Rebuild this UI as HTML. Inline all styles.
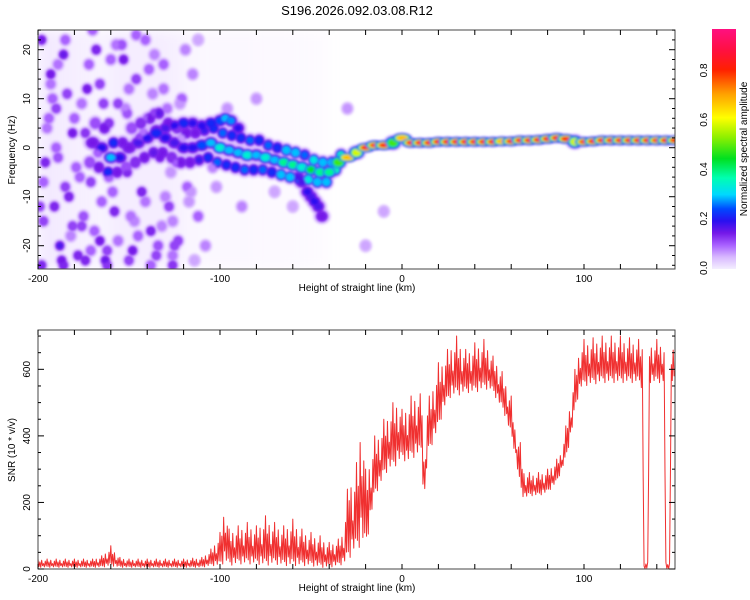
<!DOCTYPE html>
<html><head><meta charset="utf-8"><style>
html,body{margin:0;padding:0;background:#fff;}
svg{display:block;font-family:"Liberation Sans",sans-serif;}
</style></head><body>
<svg id="chart" width="750" height="600" viewBox="0 0 750 600">
<defs>
<filter id="soft" x="-50%" y="-50%" width="200%" height="200%"><feGaussianBlur stdDeviation="1.3"/></filter>
<filter id="haze" x="-50%" y="-50%" width="200%" height="200%"><feGaussianBlur stdDeviation="6"/></filter>
<linearGradient id="cbar" x1="0" y1="1" x2="0" y2="0">
<stop offset="0" stop-color="#f4eeff"/><stop offset="0.05" stop-color="#d8b8ff"/><stop offset="0.1" stop-color="#a860ff"/><stop offset="0.15" stop-color="#7418e8"/><stop offset="0.2" stop-color="#2a10f0"/><stop offset="0.25" stop-color="#0048ff"/><stop offset="0.31" stop-color="#00d8ff"/><stop offset="0.38" stop-color="#00ffb0"/><stop offset="0.46" stop-color="#00e020"/><stop offset="0.55" stop-color="#90f000"/><stop offset="0.63" stop-color="#ffff00"/><stop offset="0.73" stop-color="#ffa000"/><stop offset="0.83" stop-color="#ff2000"/><stop offset="0.91" stop-color="#ff1040"/><stop offset="1" stop-color="#ff1080"/>
</linearGradient>
<clipPath id="clipTop"><rect x="38" y="30" width="637" height="239"/></clipPath>
<clipPath id="clipBot"><rect x="38" y="330" width="637" height="239"/></clipPath>
</defs>
<text x="357" y="15" text-anchor="middle" font-size="13">S196.2026.092.03.08.R12</text>
<g id="topMarks" clip-path="url(#clipTop)"></g>
<g id="botMarks" clip-path="url(#clipBot)"></g>
<g id="axes"></g>
<rect x="712" y="29" width="24" height="240" fill="url(#cbar)"/>
<text transform="translate(747,149) rotate(-90)" text-anchor="middle" font-size="10" fill="#000">Normalized spectral amplitude</text>
</svg>
<script>
// ---- Data: spectrogram ridge (height km, centre frequency Hz, normalized amplitude, spread Hz) ----
const ridgeX = [-170,-165,-160,-155,-150,-145,-140,-135,-130,-125,-120,-115,-110,-105,-100,-95,-90,-85,-80,-75,-70,-65,-60,-55,-50,-45,-40,-35,-30,-25,-20,-15,-10,-5,0,5,10,15,20,25,30,35,40,45,50,55,60,65,70,75,80,85,90,95,100,105,110,115,120,125,130,135,140,145,150];
const ridgeF = [1,0,-2,-2,0,1,2,3,2,1,0,0,0.5,1,0,-0.5,-1,-1.5,-1.5,-2,-2.5,-3,-3.5,-4,-4.5,-5,-5,-3,-2,-1,0,0.5,0.5,1,2,1,1,1,1.2,1.2,1.2,1.2,1.2,1.2,1.2,1.3,1.3,1.5,1.5,1.6,1.8,2,1.8,1.2,1.2,1.3,1.5,1.5,1.5,1.5,1.5,1.5,1.5,1.5,1.5];
const ridgeAmp = [0.15,0.2,0.3,0.2,0.15,0.18,0.2,0.22,0.2,0.18,0.2,0.2,0.25,0.3,0.35,0.3,0.3,0.35,0.3,0.35,0.3,0.4,0.4,0.35,0.45,0.4,0.4,0.5,0.7,0.6,0.83,0.8,0.84,0.5,0.7,0.84,0.85,0.83,0.84,0.84,0.85,0.84,0.84,0.83,0.85,0.7,0.83,0.85,0.84,0.85,0.85,0.85,0.83,0.6,0.8,0.84,0.85,0.84,0.83,0.85,0.84,0.85,0.8,0.85,0.84];
const ridgeSpread = [4,4,3,3,4,4,4,4,3,3,3,3,3,3,3,3,3,3,3,2.5,2.5,2.5,2.5,2.5,2,2,2,1.5,1.2,1.2,1,1,1,1,1,1,1,1,1,1,1,1,1,1,1,1,1,1,1,1,1,1,1,1,1,1,1,1,1,1,1,1,1,1,1];
// secondary branches [height km, freq Hz, amp]
const branchX = [-135,-130,-125,-120,-115,-110,-105,-100,-97,-94,-90,-57,-55,-52,-50,-48,-46,-44];
const branchF = [3.5,4,4.5,5,5,4.5,5,5.5,6,5.5,4,-6,-7,-9,-10,-11,-12,-14];
const branchAmp = [0.16,0.18,0.2,0.22,0.2,0.2,0.22,0.25,0.3,0.28,0.2,0.18,0.18,0.2,0.18,0.2,0.18,0.15];
// scattered noise blobs
const noiseX = [-198,-196,-193,-190,-188,-186,-183,-181,-178,-176,-173,-171,-168,-166,-163,-161,-158,-156,-153,-151,-148,-146,-143,-141,-138,-136,-133,-131,-128,-126,-123,-121,-118,-115,-112,-108,-104,-190,-185,-180,-175,-170,-165,-160,-155,-150,-145,-140,-135,-130,-125,-195,-187,-177,-172,-167,-157,-147,-137,-127,-117,-199,-192,-182,-162,-152,-142,-132,-122,-112,-20,-10,-30,
 -197,-194,-191,-189,-184,-179,-174,-169,-164,-159,-154,-149,-144,-139,-134,-129,-124,-119,-197,-193,-189,-185,-181,-176,-171,-166,-161,-156,-151,-146,-141,-136,-131,-126,-121,-116,-198,-186,-174,-162,-150,-138,-126,-114,-102,-96,-88,-80,-70,-60];
const noiseF = [22,-3,15,8,-20,19,-10,3,-22,-16,12,-7,20,-19,-23,5,-13,9,18,-5,-21,14,-9,22,-17,7,-2,17,-12,-24,-19,10,-8,15,-14,-20,-4,0,-8,6,-14,24,-11,18,-2,12,-18,6,-22,-10,-20,4,-23,-6,17,-1,21,-15,11,-5,-11,-12,10,-18,-21,8,3,-16,9,22,-20,-13,8,
 -15,6,-12,17,11,-4,3,-17,9,-9,21,-14,2,16,-20,8,-3,20,-7,13,-2,22,-16,9,-21,13,-6,-19,7,23,-11,19,12,-15,2,-9,-24,-24,-23,-24,-23,-24,-22,-23,-8,8,-12,10,-9,-12];
const noiseAmp = [0.15,0.14,0.15,0.12,0.18,0.16,0.14,0.15,0.14,0.12,0.15,0.12,0.14,0.15,0.16,0.13,0.14,0.12,0.15,0.14,0.15,0.12,0.14,0.1,0.14,0.12,0.15,0.1,0.12,0.13,0.12,0.1,0.1,0.08,0.1,0.08,0.08,0.1,0.12,0.1,0.11,0.1,0.1,0.1,0.1,0.09,0.1,0.09,0.12,0.08,0.12,0.09,0.15,0.1,0.1,0.1,0.09,0.08,0.08,0.07,0.07,0.12,0.1,0.08,0.12,0.08,0.09,0.08,0.07,0.06,0.06,0.06,0.07,
 0.12,0.1,0.14,0.09,0.12,0.1,0.13,0.1,0.12,0.1,0.11,0.09,0.12,0.1,0.11,0.09,0.1,0.08,0.1,0.09,0.11,0.1,0.12,0.09,0.1,0.12,0.1,0.09,0.11,0.1,0.09,0.08,0.09,0.08,0.07,0.07,0.14,0.14,0.14,0.13,0.12,0.1,0.09,0.06,0.07,0.07,0.08,0.07,0.06,0.06];
// background haze density per 10 km column
const hazeX = [-195,-185,-175,-165,-155,-145,-135,-125,-115,-105,-95,-85,-75,-65,-55,-45];
const hazeDensity = [0.35,0.3,0.25,0.2,0.3,0.3,0.3,0.25,0.15,0.12,0.12,0.12,0.1,0.1,0.08,0.06];
// ---- Data: SNR (height km, lower envelope, upper envelope) ----
const snrX = [-200,-190,-180,-170,-165,-160,-155,-150,-140,-130,-120,-110,-105,-100,-97,-95,-90,-85,-80,-75,-70,-65,-60,-55,-50,-45,-40,-35,-32,-29,-27,-24,-22,-20,-18,-15,-12,-10,-7,-5,-2,0,3,5,8,11,12,14,17,20,23,27,30,35,40,45,48,50,53,56,60,62,65,67,70,75,80,85,88,90,93,95,98,100,110,120,130,132,133,135,136,140,144,145,147,148,150];
const snrLow = [5,5,5,5,5,10,5,5,5,5,5,5,10,10,20,10,15,15,15,10,15,10,10,10,10,5,5,10,15,30,50,60,80,60,120,220,250,280,300,300,320,330,320,330,340,350,160,340,380,420,480,520,520,530,530,540,540,530,500,470,400,350,240,210,220,220,230,260,300,330,400,480,540,550,560,560,560,540,0,0,560,560,560,0,0,560,560];
const snrHigh = [30,30,30,30,40,70,35,30,30,30,30,35,60,110,215,120,130,140,130,160,140,130,150,120,110,100,80,90,120,300,260,350,520,300,330,400,420,450,480,500,520,480,500,520,540,520,350,500,560,620,640,680,700,660,680,690,670,640,620,580,520,430,380,300,290,290,300,330,360,430,520,600,680,690,700,700,690,680,20,20,680,690,680,20,20,680,700];
const xTicks = [-200,-100,0,100];
const topYTicks = [-20,-10,0,10,20];
const botYTicks = [0,200,400,600];
const cbTicks = ["0.0","0.2","0.4","0.6","0.8"];

const NS = "http://www.w3.org/2000/svg";
const X0=38, X1=675;
const xs = v => X0 + (v+200)/350*(X1-X0);
const yTop = f => 147.7 - f*4.9;
const yBot = s => 569 - s*0.3328;
const stops=[[0,[244,238,255]],[0.05,[216,184,255]],[0.1,[168,96,255]],[0.15,[116,24,232]],[0.2,[42,16,240]],[0.25,[0,72,255]],[0.31,[0,216,255]],[0.38,[0,255,176]],[0.46,[0,224,32]],[0.55,[144,240,0]],[0.63,[255,255,0]],[0.73,[255,160,0]],[0.83,[255,32,0]],[0.91,[255,16,64]],[1,[255,16,128]]];
function cmap(a){a=Math.max(0,Math.min(1,a));for(let i=1;i<stops.length;i++){if(a<=stops[i][0]){const t=(a-stops[i-1][0])/(stops[i][0]-stops[i-1][0]);const c=stops[i-1][1].map((v,k)=>Math.round(v+(stops[i][1][k]-v)*t));return `rgb(${c})`;}}return "rgb(255,16,128)";}
function mk(tag,attrs,parent){const e=document.createElementNS(NS,tag);for(const k in attrs)e.setAttribute(k,attrs[k]);parent.appendChild(e);return e;}

const topG=document.getElementById('topMarks');
const gHaze=mk('g',{filter:'url(#haze)'},topG);
const gHalo=mk('g',{filter:'url(#soft)'},topG);
const gMid=mk('g',{filter:'url(#soft)'},topG);
const gCore=mk('g',{filter:'url(#soft)'},topG);
hazeX.forEach((x,i)=>{
  const r=mk('rect',{x:xs(x-5),y:30,width:xs(x+5)-xs(x-5),height:239,fill:cmap(0.04),opacity:hazeDensity[i]},gHaze);
  
  
});
const ringLevels=[0.2,0.3,0.45,0.62];
function blob(x,f,a,rx,ry,name){
  const h=mk('ellipse',{cx:xs(x),cy:yTop(f),rx:rx*2.2,ry:ry*2.3,fill:cmap(0.05),opacity:0.85},gHalo);
  
  
  const m=mk('ellipse',{cx:xs(x),cy:yTop(f),rx:rx*1.5,ry:ry*1.6,fill:cmap(Math.min(a,0.14))},gMid);
  
  
  const lv=ringLevels.filter(l=>l<a);
  lv.forEach((l,j)=>{
    const s=1+0.22*(lv.length-j);
    const e=mk('ellipse',{cx:xs(x),cy:yTop(f),rx:rx*s,ry:ry*s,fill:cmap(l)},gCore);
    
    
  });
  const c=mk('ellipse',{cx:xs(x),cy:yTop(f),rx:rx,ry:ry,fill:cmap(a)},gCore);
  
  
}
noiseX.forEach((x,i)=>blob(x,noiseF[i],noiseAmp[i],3,3,'noise-blob'));
ridgeX.forEach((x,i)=>{const s=ridgeSpread[i];if(s>1.2){blob(x+1.5,ridgeF[i]+s,ridgeAmp[i]*0.75,3.5,3.5,'ridge-spread-blob');blob(x-1.5,ridgeF[i]-s,ridgeAmp[i]*0.75,3.5,3.5,'ridge-spread-blob');}});
branchX.forEach((x,i)=>blob(x,branchF[i],branchAmp[i],4,3.5,'branch-blob'));
ridgeX.forEach((x,i)=>{const a=ridgeAmp[i];blob(x,ridgeF[i],a,a>0.6?5:4.5,a>0.6?2.4:3.6,'ridge-blob');});

// SNR line
const botG=document.getElementById('botMarks');
const pat=[1,0.1,0.65,0,0.85,0.2,0.45,0.05,0.75,0.15];
let pts=[],k=0;
for(let i=0;i<snrX.length-1;i++){
  const px0=xs(snrX[i]),px1=xs(snrX[i+1]);
  const n=Math.max(2,Math.round((px1-px0)/0.9));
  for(let j=0;j<n;j++){
    const t=j/n;
    const lo=snrLow[i]+(snrLow[i+1]-snrLow[i])*t, hi=snrHigh[i]+(snrHigh[i+1]-snrHigh[i])*t;
    const w=pat[k++%pat.length];
    const v=lo+(hi-lo)*w;
    pts.push(`${(px0+(px1-px0)*t).toFixed(2)},${yBot(v).toFixed(2)}`);
  }
}
pts.push(`${xs(snrX[snrX.length-1])},${yBot(snrHigh[snrHigh.length-1]*0.85)}`);
const line=mk('polyline',{points:pts.join(' '),fill:'none',stroke:'#f03030','stroke-width':1,'stroke-linejoin':'round'},botG);



// Axes
const ax=document.getElementById('axes');
function frame(y0,y1,name){const r=mk('rect',{x:X0,y:y0,width:X1-X0,height:y1-y0,fill:'none',stroke:'#444','stroke-width':1},ax);}
frame(30,269,'top-plot-frame');frame(330,569,'bottom-plot-frame');
function xaxis(y0,y1,labY,title,tname){
  for(let v=-200;v<=150;v+=20){const p=xs(v);mk('line',{x1:p,x2:p,y1:y1,y2:y1-5,stroke:'#000'},ax);mk('line',{x1:p,x2:p,y1:y0,y2:y0+5,stroke:'#000'},ax);}
  xTicks.forEach(v=>{const t=mk('text',{x:xs(v),y:labY,'text-anchor':'middle','font-size':10},ax);t.textContent=v;
    
    });
  const tt=mk('text',{x:357,y:labY+9,'text-anchor':'middle','font-size':10},ax);tt.textContent=title;
  
  
}
xaxis(30,269,282,'Height of straight line (km)','top-x-axis-title');
xaxis(330,569,582,'Height of straight line (km)','bottom-x-axis-title');
for(let f=-24;f<=24;f+=2){const p=yTop(f);const L=f%10===0?6:3;mk('line',{x1:X0,x2:X0+L,y1:p,y2:p,stroke:'#000'},ax);mk('line',{x1:X1,x2:X1-L,y1:p,y2:p,stroke:'#000'},ax);}
topYTicks.forEach(v=>{const t=mk('text',{transform:`translate(30,${yTop(v)}) rotate(-90)`,'text-anchor':'middle','font-size':10},ax);t.textContent=v;
  
  });
let yt=mk('text',{transform:'translate(15,150) rotate(-90)','text-anchor':'middle','font-size':10},ax);yt.textContent='Frequency (Hz)';


for(let s=0;s<=700;s+=50){const p=yBot(s);const L=s%200===0?6:3;mk('line',{x1:X0,x2:X0+L,y1:p,y2:p,stroke:'#000'},ax);mk('line',{x1:X1,x2:X1-L,y1:p,y2:p,stroke:'#000'},ax);}
botYTicks.forEach(v=>{const t=mk('text',{transform:`translate(30,${yBot(v)}) rotate(-90)`,'text-anchor':'middle','font-size':10},ax);t.textContent=v;
  
  });
yt=mk('text',{transform:'translate(15,450) rotate(-90)','text-anchor':'middle','font-size':10},ax);yt.textContent='SNR (10 * v/v)';


// colorbar ticks
cbTicks.forEach((v,i)=>{const p=268-i*0.2*247;
  const t=mk('text',{transform:`translate(707,${p}) rotate(-90)`,'text-anchor':'middle','font-size':10},ax);t.textContent=v;
  
  });
</script>
</body></html>
